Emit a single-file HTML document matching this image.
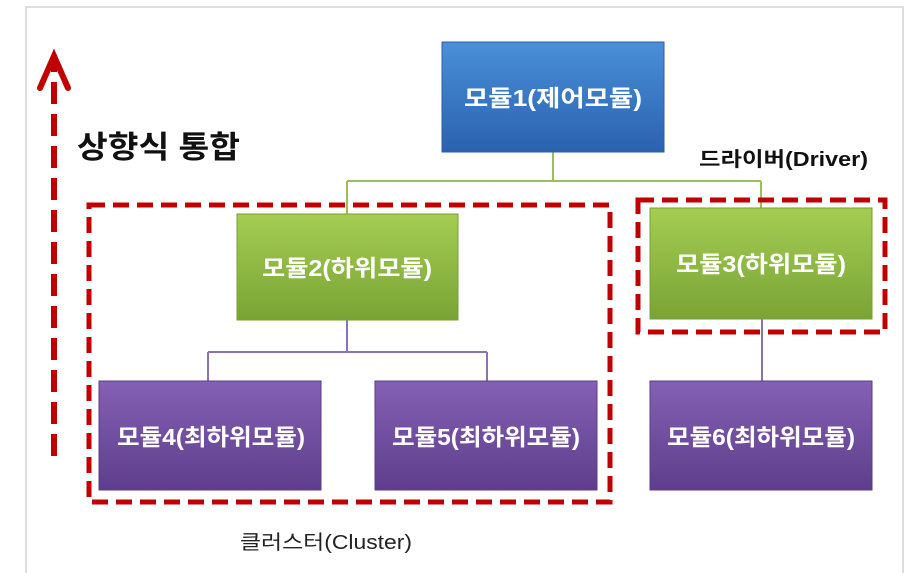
<!DOCTYPE html>
<html><head><meta charset="utf-8"><style>
html,body{margin:0;padding:0;background:#fff;width:917px;height:573px;overflow:hidden}
svg{display:block}
text{font-family:"Liberation Sans","Noto Sans CJK KR","NanumGothic",sans-serif}
</style></head><body>
<svg width="917" height="573" viewBox="0 0 917 573" xmlns="http://www.w3.org/2000/svg">
<defs>
<linearGradient id="gb" x1="0" y1="0" x2="0" y2="1"><stop offset="0" stop-color="#4a8fd8"/><stop offset="1" stop-color="#2a62b0"/></linearGradient>
<linearGradient id="gg" x1="0" y1="0" x2="0" y2="1"><stop offset="0" stop-color="#a4cd52"/><stop offset="1" stop-color="#79a435"/></linearGradient>
<linearGradient id="gp" x1="0" y1="0" x2="0" y2="1"><stop offset="0" stop-color="#8460b4"/><stop offset="1" stop-color="#5e3e8c"/></linearGradient>
</defs>
<path d="M26 573 V7 H903 V573" fill="none" stroke="#d4d4d4" stroke-width="1.5"/>
<path d="M553 152 V181 M347 181 H761 M347 181 V214 M761 181 V208" stroke="#9bbf5a" stroke-width="2" fill="none"/>
<path d="M347 320 V352 M208 352 H487 M208 352 V381 M487 352 V381 M762 319 V381" stroke="#8a73b0" stroke-width="2" fill="none"/>
<rect x="442" y="42" width="222" height="110" fill="url(#gb)" stroke="#2a5ea8"/>
<rect x="237" y="214" width="221" height="106" fill="url(#gg)" stroke="#76a030"/>
<rect x="650" y="208" width="222" height="111" fill="url(#gg)" stroke="#76a030"/>
<rect x="99" y="381" width="222" height="109" fill="url(#gp)" stroke="#5a3c88"/>
<rect x="375" y="381" width="222" height="109" fill="url(#gp)" stroke="#5a3c88"/>
<rect x="650" y="381" width="222" height="109" fill="url(#gp)" stroke="#5a3c88"/>
<rect x="89" y="205" width="521" height="297" fill="none" stroke="#c00000" stroke-width="5" stroke-dasharray="16 8"/>
<rect x="638" y="200" width="247" height="132" fill="none" stroke="#c00000" stroke-width="5" stroke-dasharray="16 8"/>
<line x1="54" y1="456" x2="54" y2="62" stroke="#c00000" stroke-width="6" stroke-dasharray="22 10"/>
<path d="M40 88 L54 56 L68 88" fill="none" stroke="#c00000" stroke-width="6" stroke-linecap="round"/>
<g fill="#fff" font-weight="bold" font-size="23" text-anchor="middle" lengthAdjust="spacingAndGlyphs">
<text x="553" y="106" textLength="178" lengthAdjust="spacingAndGlyphs">모듈1(제어모듈)</text>
<text x="347" y="276" textLength="170" lengthAdjust="spacingAndGlyphs">모듈2(하위모듈)</text>
<text x="761" y="272" textLength="170" lengthAdjust="spacingAndGlyphs">모듈3(하위모듈)</text>
<text x="211" y="445" textLength="188" lengthAdjust="spacingAndGlyphs">모듈4(최하위모듈)</text>
<text x="486" y="445" textLength="188" lengthAdjust="spacingAndGlyphs">모듈5(최하위모듈)</text>
<text x="761" y="445" textLength="188" lengthAdjust="spacingAndGlyphs">모듈6(최하위모듈)</text>
</g>
<text x="77" y="158" font-size="31" font-weight="bold" fill="#111" textLength="163" lengthAdjust="spacingAndGlyphs">상향식 통합</text>
<text x="699" y="166" font-size="20" font-weight="bold" fill="#111" textLength="169" lengthAdjust="spacingAndGlyphs">드라이버(Driver)</text>
<text x="240" y="549" font-size="20" fill="#222" textLength="172" lengthAdjust="spacingAndGlyphs">클러스터(Cluster)</text>
</svg>
</body></html>
